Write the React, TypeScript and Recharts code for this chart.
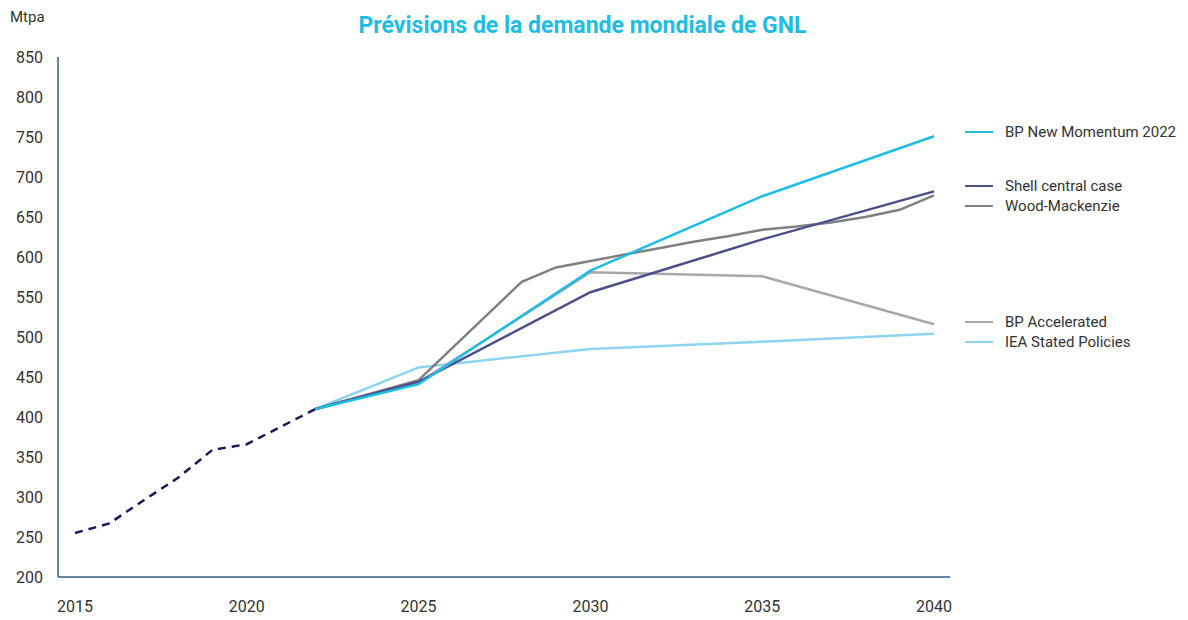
import { LineChart, Line, XAxis, YAxis } from 'recharts';

const years = [2015, 2016, 2017, 2018, 2019, 2020, 2021, 2022, 2023, 2024, 2025, 2026, 2027, 2028, 2029, 2030, 2031, 2032, 2033, 2034, 2035, 2036, 2037, 2038, 2039, 2040];

// historique (pointillé), 2015 -> 2022
const historical = [255, 267, 296, 324, 359, 366, 388, 410];

// prévisions, clé = année
const bpNewMomentum: Record<number, number> = { 2022: 410, 2025: 441, 2030: 583, 2035: 676, 2040: 751 };
const shellCentral: Record<number, number> = { 2022: 410, 2025: 444, 2030: 556, 2035: 622, 2040: 682 };
const woodMackenzie: Record<number, number> = {
    2022: 410, 2025: 446, 2026: 487, 2027: 528, 2028: 569, 2029: 587, 2030: 595,
    2031: 603, 2032: 611, 2033: 619, 2034: 626, 2035: 634, 2036: 638, 2037: 643, 2038: 650, 2039: 659, 2040: 677,
};
const bpAccelerated: Record<number, number> = { 2022: 410, 2025: 443, 2030: 581, 2035: 576, 2040: 516 };
const ieaStated: Record<number, number> = { 2022: 410, 2025: 462, 2030: 485, 2035: 494, 2040: 504 };

const yTicks = [200, 250, 300, 350, 400, 450, 500, 550, 600, 650, 700, 750, 800, 850];
const xTicks = [2015, 2020, 2025, 2030, 2035, 2040];

const SERIES = [
    { key: 'bpNM', name: 'BP New Momentum 2022', color: '#1dbde6', src: bpNewMomentum, legendY: 132 },
    { key: 'shell', name: 'Shell central case', color: '#4b4f8b', src: shellCentral, legendY: 186 },
    { key: 'wood', name: 'Wood-Mackenzie', color: '#808083', src: woodMackenzie, legendY: 206 },
    { key: 'bpAcc', name: 'BP Accelerated', color: '#a8a8ab', src: bpAccelerated, legendY: 322 },
    { key: 'iea', name: 'IEA Stated Policies', color: '#8ed4f0', src: ieaStated, legendY: 342 },
];

const data = years.map((year, i) => {
    const row: Record<string, number | null> = { year, hist: historical[i] ?? null };
    SERIES.forEach(s => {
        row[s.key] = s.src[year] ?? null;
    });
    return row;
});

const FONT = 'Roboto, "Noto Sans", sans-serif';
const AXIS_COLOR = '#2f5b86';

export default function App() {
    return (
        <div style={{ position: 'absolute', left: 0, top: 0, width: 1188, height: 620, background: '#fff', fontFamily: FONT }}>
            <div style={{ position: 'absolute', left: 0, width: 1165, top: 12, textAlign: 'center', fontSize: 23, fontWeight: 700, color: '#1dbde6' }}>
                Prévisions de la demande mondiale de GNL
            </div>
            <div style={{ position: 'absolute', left: 10, top: 8, fontSize: 15, color: '#333' }}>Mtpa</div>
            <LineChart width={1188} height={620} data={data} margin={{ top: 57, right: 238, bottom: 13, left: 0 }}>
                <XAxis
                    dataKey="year"
                    type="number"
                    domain={[2015, 2040]}
                    ticks={xTicks}
                    height={30}
                    padding={{ left: 17, right: 16 }}
                    axisLine={{ stroke: AXIS_COLOR, strokeWidth: 1.5 }}
                    tickLine={false}
                    tickSize={0}
                    tickMargin={24}
                    tick={{ fontSize: 16, fill: '#333', fontFamily: FONT }}
                />
                <YAxis
                    domain={[200, 850]}
                    ticks={yTicks}
                    width={58}
                    axisLine={{ stroke: AXIS_COLOR, strokeWidth: 1.5 }}
                    tickLine={false}
                    tickSize={0}
                    tickMargin={15}
                    tick={{ fontSize: 16, fill: '#333', fontFamily: FONT }}
                />
                <Line
                    dataKey="hist"
                    stroke="#141a5a"
                    strokeWidth={2.5}
                    strokeDasharray="8 6"
                    dot={false}
                    isAnimationActive={false}
                />
                {[...SERIES].reverse().map(s => (
                    <Line
                        key={s.key}
                        dataKey={s.key}
                        name={s.name}
                        stroke={s.color}
                        strokeWidth={2.5}
                        dot={false}
                        connectNulls
                        isAnimationActive={false}
                    />
                ))}
            </LineChart>
            {SERIES.map(s => (
                <div key={s.key} style={{ position: 'absolute', left: 965, top: s.legendY - 10, height: 20, display: 'flex', alignItems: 'center' }}>
                    <span style={{ display: 'inline-block', width: 28, height: 2.5, background: s.color, marginRight: 12 }} />
                    <span style={{ fontSize: 15, color: '#333' }}>{s.name}</span>
                </div>
            ))}
        </div>
    );
}
